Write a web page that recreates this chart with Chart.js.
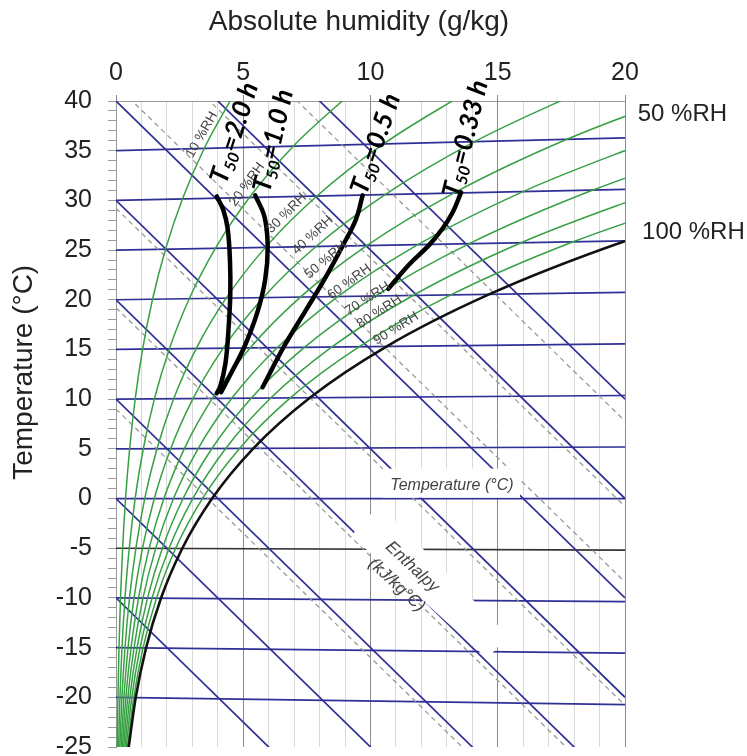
<!DOCTYPE html>
<html>
<head>
<meta charset="utf-8">
<script src="https://cdn.jsdelivr.net/npm/chart.js@4.4.1/dist/chart.umd.min.js"></script>
<style>
  html, body { margin: 0; padding: 0; background: #fff; }
  #wrap { width: 747px; height: 756px; }
</style>
</head>
<body>
<div id="wrap"><canvas id="chart" width="747" height="756"></canvas></div>
<script>
// temperature nodes (°C) for the RH curves
const tempNodes = [-25, -20, -15, -10, -5, 0, 5, 10, 15, 20, 25, 30, 35, 40];

// absolute humidity (g/kg) of each RH curve at those nodes
const rh10 = [0.05, 0.077, 0.118, 0.177, 0.26, 0.375, 0.536, 0.754, 1.046, 1.435, 1.946, 2.61, 3.465, 4.557];
const rh20 = [0.10, 0.155, 0.236, 0.353, 0.521, 0.751, 1.072, 1.509, 2.096, 2.877, 3.904, 5.242, 6.968, 9.181];
const rh30 = [0.15, 0.232, 0.354, 0.53, 0.781, 1.128, 1.61, 2.266, 3.15, 4.326, 5.874, 7.896, 10.511, 13.874];
const rh40 = [0.20, 0.31, 0.472, 0.707, 1.041, 1.504, 2.148, 3.025, 4.207, 5.781, 7.857, 10.573, 14.094, 18.636];
const rh50 = [0.25, 0.387, 0.59, 0.884, 1.30, 1.882, 2.687, 3.786, 5.268, 7.243, 9.853, 13.272, 17.718, 23.47];
const rh60 = [0.30, 0.464, 0.708, 1.06, 1.56, 2.259, 3.228, 4.549, 6.332, 8.712, 11.861, 15.995, 21.38];
const rh70 = [0.35, 0.542, 0.826, 1.237, 1.82, 2.637, 3.769, 5.313, 7.40, 10.188, 13.882, 18.741, 25.09];
const rh80 = [0.40, 0.619, 0.944, 1.414, 2.08, 3.016, 4.311, 6.08, 8.471, 11.67, 15.915, 21.51];
const rh90 = [0.45, 0.697, 1.062, 1.59, 2.34, 3.395, 4.854, 6.848, 9.546, 13.16, 17.963, 24.30];
const rhCurves = [rh10, rh20, rh30, rh40, rh50, rh60, rh70, rh80, rh90];
const rhNames = ['10 %RH', '20 %RH', '30 %RH', '40 %RH', '50 %RH', '60 %RH', '70 %RH', '80 %RH', '90 %RH'];
const saturation = [0.498, 0.774, 1.18, 1.767, 2.603, 3.775, 5.398, 7.618, 10.625, 14.657, 20.02, 27.12];

// isotherms, enthalpy lines and dashed guide lines (value where they meet x = 0)
const tempLines = [-20, -15, -10, -5, 0, 5, 10, 15, 20, 25, 30, 35];
const enthalpyLines = [-10, 0, 10, 20, 30, 40, 50, 60];
const dashedLines = [9, 19.2, 29.2, 41.6, 49.2, 57.8];

// T50 curves
const t50Names = ['2.0', '1.0', '0.5', '0.33'];
const t50X = [
  [3.96, 4.22, 4.39, 4.48, 4.49, 4.42, 4.3, 4.1, 3.96],
  [4.13, 4.5, 5.05, 5.55, 5.86, 5.96, 5.83, 5.47],
  [5.76, 6.6, 7.45, 8.2, 8.9, 9.43, 9.69],
  [10.7, 11.5, 12.3, 12.84, 13.23, 13.56]
];
const t50Y = [
  [30.4, 29.0, 27.1, 23.8, 20.5, 17.0, 13.6, 11.3, 10.6],
  [10.7, 12.5, 15.3, 18.7, 22.0, 25.4, 28.4, 30.5],
  [11.2, 15.3, 18.9, 22.1, 25.4, 28.1, 30.5],
  [21.1, 23.5, 25.5, 27.2, 28.8, 30.8]
];

const xTickLabels = [0, 5, 10, 15, 20];
const yTickLabels = [40, 35, 30, 25, 20, 15, 10, 5, 0, -5, -10, -15, -20, -25];

// Mollier style skew: isotherms rise a little with humidity
const mollierY = (t, x) => t * (1 + 0.00185 * x);
const ENTH_SLOPE = 2.5;

const BLUE = '#2f2f96';
const GREEN = '#36a043';

const datasets = [];
tempLines.forEach(t => datasets.push({
  data: [{x: 0, y: t}, {x: 20, y: mollierY(t, 20)}],
  borderColor: t === -5 ? '#333' : BLUE, borderWidth: 1.7, order: 5
}));
enthalpyLines.forEach(c => datasets.push({
  data: [{x: 0, y: c}, {x: 20, y: c - ENTH_SLOPE * 20}],
  borderColor: BLUE, borderWidth: 1.7, order: 4
}));
dashedLines.forEach(c => datasets.push({
  data: [{x: 0, y: c}, {x: 20, y: c - ENTH_SLOPE * 20}],
  borderColor: '#9a9a9a', borderWidth: 1.3, borderDash: [5, 4], order: 3
}));
rhCurves.forEach(curve => datasets.push({
  data: curve.map((x, i) => ({x: x, y: mollierY(tempNodes[i], x)})),
  borderColor: GREEN, borderWidth: 1.5, cubicInterpolationMode: 'monotone', order: 2
}));
datasets.push({
  data: saturation.map((x, i) => ({x: x, y: mollierY(tempNodes[i], x)})),
  borderColor: '#111', borderWidth: 2.6, cubicInterpolationMode: 'monotone', order: 1
});
t50X.forEach((xs, k) => datasets.push({
  data: xs.map((x, i) => ({x: x, y: t50Y[k][i]})),
  borderColor: '#000', borderWidth: 4.5, tension: 0.4, borderCapStyle: 'round', order: 0
}));
datasets.forEach(d => { d.showLine = true; d.pointRadius = 0; d.fill = false; });

// text placed on the chart
const rhLabelPos = [[3.37, 36.6, -60], [5.15, 31.6, -54], [6.7, 28.7, -45], [7.73, 26.5, -43], [8.25, 24.0, -40],
  [9.17, 21.8, -36], [9.89, 20.1, -33], [10.35, 18.8, -33], [11.0, 17.1, -32]];
const t50LabelPos = [[4.65, 36.8, -72], [6.18, 36.0, -77], [10.2, 35.7, -71], [13.73, 36.2, -76]];
const enthalpyBox = [[9.24, -3.75], [10.35, -0.6], [15.4, -13.79], [14.59, -16.12]];

function drawT50(ctx, cx, cy, angle, value) {
  const big = 'italic bold 26px Lato', small = 'italic bold 16px Lato';
  const rest = '=' + value + ' h';
  ctx.font = big;
  const wT = ctx.measureText('T').width, wR = ctx.measureText(rest).width;
  ctx.font = small;
  const wS = ctx.measureText('50').width;
  ctx.save();
  ctx.translate(cx, cy);
  ctx.rotate(angle * Math.PI / 180);
  ctx.textBaseline = 'middle';
  ctx.textAlign = 'left';
  ctx.fillStyle = '#000';
  let pos = -(wT + wS + wR) / 2;
  ctx.font = big; ctx.fillText('T', pos, 0); pos += wT;
  ctx.font = small; ctx.fillText('50', pos, 7); pos += wS;
  ctx.font = big; ctx.fillText(rest, pos, 0);
  ctx.restore();
}

function rotatedText(ctx, text, cx, cy, angle) {
  ctx.save();
  ctx.translate(cx, cy);
  ctx.rotate(angle * Math.PI / 180);
  ctx.fillText(text, 0, 0);
  ctx.restore();
}

const annotations = {
  id: 'annotations',
  afterDatasetsDraw(chart) {
    const ctx = chart.ctx;
    const px = v => chart.scales.x.getPixelForValue(v);
    const py = v => chart.scales.y.getPixelForValue(v);
    ctx.save();

    // white boxes behind the in-chart captions
    ctx.fillStyle = '#fff';
    ctx.beginPath();
    enthalpyBox.forEach((p, i) => i ? ctx.lineTo(px(p[0]), py(p[1])) : ctx.moveTo(px(p[0]), py(p[1])));
    ctx.closePath();
    ctx.fill();
    const tcx = px(13.2), tcy = py(1.3);
    ctx.fillRect(tcx - 69, tcy - 17, 137, 29);

    ctx.textAlign = 'center';
    ctx.textBaseline = 'middle';
    ctx.fillStyle = '#444';
    ctx.font = 'italic 16px "Liberation Sans"';
    ctx.fillText('Temperature (°C)', tcx, tcy);
    ctx.font = 'italic 17px "Liberation Sans"';
    rotatedText(ctx, 'Enthalpy', px(11.64), py(-6.88), 43);
    rotatedText(ctx, '(kJ/kg°C)', px(11.03), py(-8.72), 43);

    ctx.fillStyle = '#444';
    ctx.font = '13.5px "Liberation Sans"';
    rhLabelPos.forEach((p, i) => rotatedText(ctx, rhNames[i], px(p[0]), py(p[1]), p[2]));

    t50LabelPos.forEach((p, i) => drawT50(ctx, px(p[0]), py(p[1]), p[2], t50Names[i]));

    // axis titles and end labels
    ctx.fillStyle = '#222';
    ctx.font = '28px "Liberation Sans"';
    ctx.fillText('Absolute humidity (g/kg)', 359, 22);
    rotatedText(ctx, 'Temperature (°C)', 24, py(12.7), -90);
    ctx.textAlign = 'left';
    ctx.font = '24px "Liberation Sans"';
    ctx.fillText('50 %RH', px(20.5), py(38.66));
    ctx.fillText('100 %RH', px(20.67), py(26.8));
    ctx.restore();
  }
};

new Chart(document.getElementById('chart'), {
  type: 'scatter',
  data: { datasets: datasets },
  options: {
    responsive: false,
    devicePixelRatio: 1,
    animation: false,
    layout: { padding: { top: 0, left: 0, right: 122, bottom: 9 } },
    plugins: { legend: { display: false }, tooltip: { enabled: false } },
    scales: {
      x: {
        type: 'linear', position: 'top', min: 0, max: 20,
        afterFit: s => { s.height = 101; s.paddingLeft = 0; s.paddingRight = 0; },
        ticks: {
          stepSize: 1, autoSkip: false, maxRotation: 0, padding: 7,
          color: '#222', font: { family: 'Liberation Sans', size: 25 },
          callback: v => xTickLabels.includes(v) ? String(v) : ''
        },
        grid: {
          color: c => c.tick && c.tick.value % 5 === 0 ? '#8a8a8a' : '#d9d9d9',
          tickColor: c => c.tick && c.tick.value % 5 === 0 ? '#8a8a8a' : 'rgba(0,0,0,0)',
          lineWidth: 1, tickLength: 6
        },
        border: { color: '#999' }
      },
      y: {
        type: 'linear', min: -25, max: 40,
        afterFit: s => { s.width = 116; s.paddingTop = 0; s.paddingBottom = 0; },
        ticks: {
          stepSize: 1, autoSkip: false, padding: 16,
          color: '#222', font: { family: 'Liberation Sans', size: 25 },
          callback: v => yTickLabels.includes(v) ? String(v) : ''
        },
        grid: { drawOnChartArea: false, color: '#999', tickLength: 8 },
        border: { color: '#999' }
      }
    }
  },
  plugins: [annotations]
});
</script>
</body>
</html>
